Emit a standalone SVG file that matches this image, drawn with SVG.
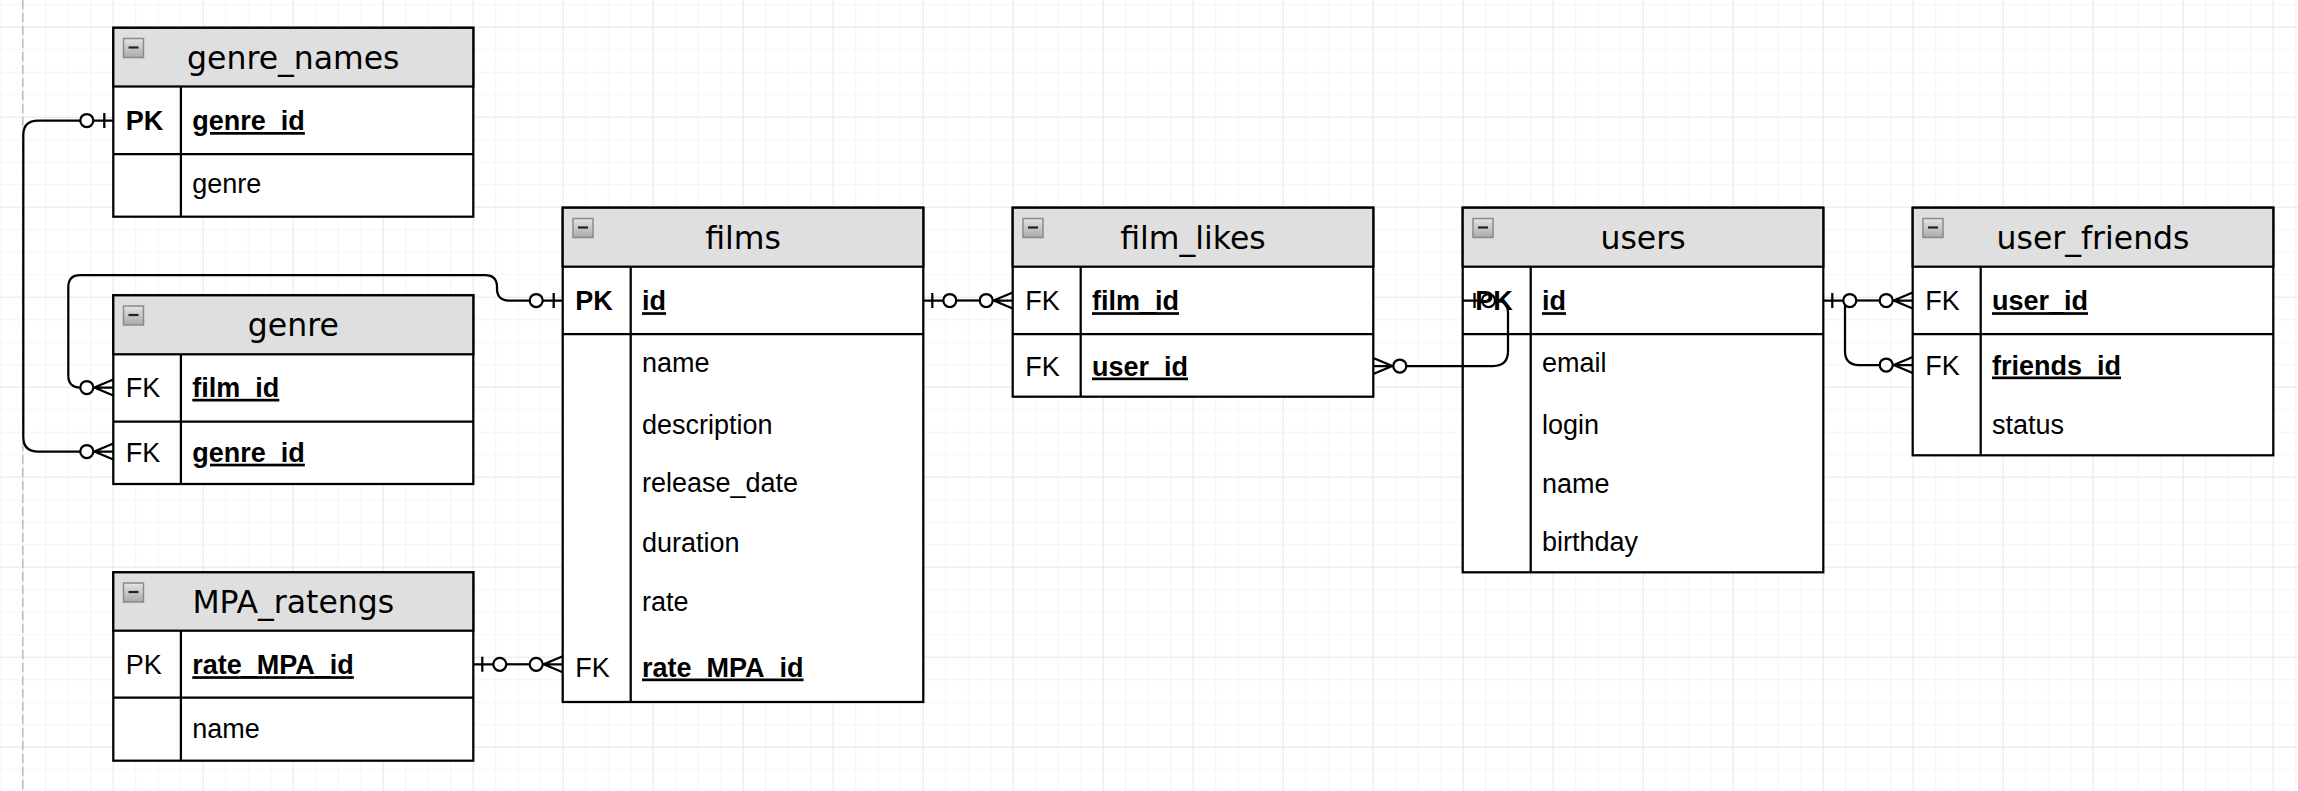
<svg xmlns="http://www.w3.org/2000/svg" xmlns:xlink="http://www.w3.org/1999/xlink" width="2298" height="791" viewBox="0 0 2298 791">
<style>
.tb{fill:#fff;stroke:#000;stroke-width:2.25}
.hd{fill:#dfdfdf;stroke:#000;stroke-width:2.25}
.ln{stroke:#000;stroke-width:2.25;fill:none}
.ttl{font-family:"DejaVu Sans",sans-serif;font-size:31.5px;text-anchor:middle;fill:#000}
.f{font-family:"Liberation Sans",Arial,sans-serif;font-size:27px;fill:#000}
.b{font-weight:bold}
.u{text-decoration:underline}
.e{fill:none;stroke:#000;stroke-width:2.25}
.c{fill:#fff;stroke:#000;stroke-width:2.25}
</style>
<defs>
<pattern id="gMin" patternUnits="userSpaceOnUse" x="22.7" y="26.7" width="22.5" height="22.5">
<path d="M0 0H22.5M0 0V22.5" fill="none" stroke="#ececec" stroke-width="1"/>
</pattern>
<pattern id="gMaj" patternUnits="userSpaceOnUse" x="22.7" y="26.7" width="90" height="90">
<path d="M0 0H90M0 0V90" fill="none" stroke="#d9d9d9" stroke-width="1"/>
</pattern>
<linearGradient id="icoG" x1="0" y1="0" x2="0" y2="1">
<stop offset="0" stop-color="#e4e4e4"/>
<stop offset="1" stop-color="#aaaaaa"/>
</linearGradient>
<g id="ico">
<rect x="0" y="0" width="20" height="19" fill="url(#icoG)" stroke="#8a8a8a" stroke-width="1.5"/>
<path d="M5 9H15" stroke="#222" stroke-width="2.2"/>
</g>
<g id="z1">
<path class="e" d="M0 0H20M9 -7.5V7.5"/>
<circle class="c" cx="26.5" cy="0" r="6.5"/>
</g>
<g id="zm">
<path class="e" d="M0 -8L19 0L0 8M0 0H20"/>
<circle class="c" cx="26.5" cy="0" r="6.5"/>
</g>
</defs>
<rect width="2298" height="791" fill="#fff"/>
<rect width="2298" height="791" fill="url(#gMin)"/>
<rect width="2298" height="791" fill="url(#gMaj)"/>
<path d="M22.7 0V791" stroke="#bdbdbd" stroke-width="1.5" stroke-dasharray="9 4"/>

<g id="genre_names">
<rect class="tb" x="113.3" y="27.8" width="360" height="188.9"/>
<rect class="hd" x="113.3" y="27.8" width="360" height="58.7"/>
<path class="ln" d="M113.3 154H473.3M180.9 86.5V216.7"/>
<use xlink:href="#ico" x="123.5" y="38.5"/>
<text class="ttl" x="293.3" y="68.7">genre_names</text>
<text class="f b" x="125.8" y="130">PK</text>
<text class="f b u" x="192.3" y="130">genre_id</text>
<text class="f" x="192.3" y="192.5">genre</text>
</g>

<g id="genre">
<rect class="tb" x="113.3" y="295.3" width="360" height="188.7"/>
<rect class="hd" x="113.3" y="295.3" width="360" height="59"/>
<path class="ln" d="M113.3 421.7H473.3M180.9 354.3V484"/>
<use xlink:href="#ico" x="123.5" y="306"/>
<text class="ttl" x="293.3" y="336.3">genre</text>
<text class="f" x="125.8" y="396.8">FK</text>
<text class="f b u" x="192.3" y="396.8">film_id</text>
<text class="f" x="125.8" y="461.7">FK</text>
<text class="f b u" x="192.3" y="461.7">genre_id</text>
</g>

<g id="MPA_ratengs">
<rect class="tb" x="113.3" y="572.3" width="360" height="188.4"/>
<rect class="hd" x="113.3" y="572.3" width="360" height="58.4"/>
<path class="ln" d="M113.3 697.7H473.3M180.9 630.7V760.7"/>
<use xlink:href="#ico" x="123.5" y="583"/>
<text class="ttl" x="293.3" y="613">MPA_ratengs</text>
<text class="f" x="125.8" y="674.2">PK</text>
<text class="f b u" x="192.3" y="674.2">rate_MPA_id</text>
<text class="f" x="192.3" y="737.5">name</text>
</g>

<g id="films">
<rect class="tb" x="562.7" y="207.7" width="360.6" height="494.3"/>
<rect class="hd" x="562.7" y="207.7" width="360.6" height="59"/>
<path class="ln" d="M562.7 334H923.3M630.7 266.7V702"/>
<use xlink:href="#ico" x="573" y="218.5"/>
<text class="ttl" x="743" y="248.7">films</text>
<text class="f b" x="575.2" y="310.2">PK</text>
<text class="f b u" x="642" y="310.2">id</text>
<text class="f" x="642" y="372.3">name</text>
<text class="f" x="642" y="434.3">description</text>
<text class="f" x="642" y="492.3">release_date</text>
<text class="f" x="642" y="552.3">duration</text>
<text class="f" x="642" y="610.5">rate</text>
<text class="f" x="575.2" y="676.5">FK</text>
<text class="f b u" x="642" y="676.5">rate_MPA_id</text>
</g>

<g id="film_likes">
<rect class="tb" x="1012.7" y="207.7" width="360.6" height="189"/>
<rect class="hd" x="1012.7" y="207.7" width="360.6" height="59"/>
<path class="ln" d="M1012.7 334H1373.3M1080.7 266.7V396.7"/>
<use xlink:href="#ico" x="1023" y="218.5"/>
<text class="ttl" x="1193" y="248.7">film_likes</text>
<text class="f" x="1025.2" y="310.2">FK</text>
<text class="f b u" x="1092" y="310.2">film_id</text>
<text class="f" x="1025.2" y="375.5">FK</text>
<text class="f b u" x="1092" y="375.5">user_id</text>
</g>

<g id="users">
<rect class="tb" x="1462.7" y="207.7" width="360.6" height="364.6"/>
<rect class="hd" x="1462.7" y="207.7" width="360.6" height="59"/>
<path class="ln" d="M1462.7 334H1823.3M1530.7 266.7V572.3"/>
<use xlink:href="#ico" x="1473" y="218.5"/>
<text class="ttl" x="1643" y="248.7">users</text>
<text class="f b" x="1475.2" y="310.2">PK</text>
<text class="f b u" x="1542" y="310.2">id</text>
<text class="f" x="1542" y="372.3">email</text>
<text class="f" x="1542" y="434.3">login</text>
<text class="f" x="1542" y="493">name</text>
<text class="f" x="1542" y="551.3">birthday</text>
</g>

<g id="user_friends">
<rect class="tb" x="1912.7" y="207.7" width="360.6" height="247.6"/>
<rect class="hd" x="1912.7" y="207.7" width="360.6" height="59"/>
<path class="ln" d="M1912.7 334H2273.3M1980.7 266.7V455.3"/>
<use xlink:href="#ico" x="1923" y="218.5"/>
<text class="ttl" x="2093" y="248.7">user_friends</text>
<text class="f" x="1925.2" y="310.2">FK</text>
<text class="f b u" x="1992" y="310.2">user_id</text>
<text class="f" x="1925.2" y="374.5">FK</text>
<text class="f b u" x="1992" y="374.5">friends_id</text>
<text class="f" x="1992" y="434.3">status</text>
</g>

<g id="connectors">
<path class="e" d="M80.3 120.5H38Q23.3 120.5 23.3 135V437Q23.3 451.5 38 451.5H80.3"/>
<path class="e" d="M529.7 300.5H509Q497 300.5 497 288.5V287Q497 275 485 275H80.3Q68.3 275 68.3 287V375.5Q68.3 387.5 80.3 387.5"/>
<path class="e" d="M956.3 300.5H979.7"/>
<path class="e" d="M506.3 664.3H529.7" stroke-width="3.4"/>
<path class="e" d="M1406.3 366H1493Q1508 366 1508 351V313Q1508 300.5 1495.5 300.5"/>
<path class="e" d="M1856.3 300.5H1879.7"/>
<path class="e" d="M1845 300.5V351Q1845 365 1859 365H1879.7"/>

<use xlink:href="#z1" transform="translate(113.3 120.5) scale(-1 1)"/>
<use xlink:href="#zm" transform="translate(113.3 451.5) scale(-1 1)"/>
<use xlink:href="#z1" transform="translate(562.7 300.5) scale(-1 1)"/>
<use xlink:href="#zm" transform="translate(113.3 387.5) scale(-1 1)"/>
<use xlink:href="#z1" transform="translate(923.3 300.5)"/>
<use xlink:href="#zm" transform="translate(1012.7 300.5) scale(-1 1)"/>
<use xlink:href="#z1" transform="translate(473.3 664.3)"/>
<use xlink:href="#zm" transform="translate(562.7 664.3) scale(-1 1)"/>
<use xlink:href="#zm" transform="translate(1373.3 366)"/>
<path class="e" d="M1463 300.5H1482M1474.5 293V308"/>
<circle cx="1488.5" cy="300.5" r="6.5" fill="none" stroke="#000" stroke-width="2.25"/>
<use xlink:href="#z1" transform="translate(1823.3 300.5)"/>
<use xlink:href="#zm" transform="translate(1912.7 300.5) scale(-1 1)"/>
<use xlink:href="#zm" transform="translate(1912.7 365) scale(-1 1)"/>
</g>
</svg>
